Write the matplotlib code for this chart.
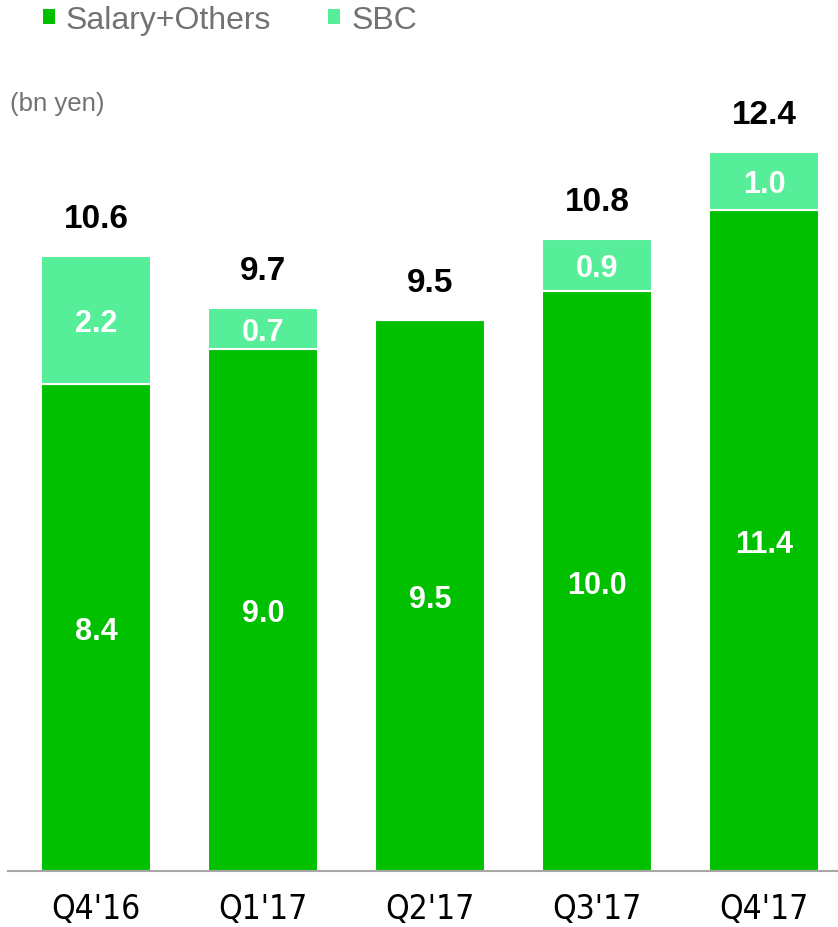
import matplotlib
matplotlib.use("Agg")
import matplotlib.pyplot as plt
from matplotlib.patches import Patch
from matplotlib import font_manager

# ---------- data ----------
quarters = ["Q4'16", "Q1'17", "Q2'17", "Q3'17", "Q4'17"]
salary = [8.4, 9.0, 9.5, 10.0, 11.4]
sbc = [2.2, 0.7, 0.0, 0.9, 1.0]
totals = [10.6, 9.7, 9.5, 10.8, 12.4]

c_salary = '#00c000'
c_sbc = '#57ee9a'
c_grey = '#767171'

# condensed face for the quarter labels, if one is around
names = {f.name for f in font_manager.fontManager.ttflist}
cond = [f for f in font_manager.fontManager.ttflist if f.stretch == 'condensed']
if 'Liberation Sans Narrow' in names:
    tick_font = dict(family=['Liberation Sans Narrow', 'DejaVu Sans'])
elif cond:
    tick_font = dict(family=[cond[0].name, 'DejaVu Sans'], stretch='condensed')
else:
    tick_font = dict(family=['Liberation Sans', 'DejaVu Sans'])
plt.rcParams['font.family'] = ['Liberation Sans', 'DejaVu Sans']

W, H = 838, 928
fig = plt.figure(figsize=(W / 100, H / 100), dpi=100)
base = 872
ax = fig.add_axes([8 / W, 1 - base / H, 830 / W, base / H])

x = list(range(len(quarters)))
width = 0.66
ax.bar(x, salary, width, color=c_salary, edgecolor='white', linewidth=1.5, zorder=2)
ax.bar(x, sbc, width, bottom=salary, color=c_sbc, edgecolor='white', linewidth=1.5, zorder=2)

ax.set_xlim(-0.527, 4.443)
ax.set_ylim(0, base / 58.0)

for i in x:
    ax.text(i, salary[i] / 2, f'{salary[i]:.1f}', ha='center', va='center_baseline',
            color='white', fontsize=22, fontweight='bold', zorder=3)
    if sbc[i] > 0:
        ax.text(i, salary[i] + sbc[i] / 2, f'{sbc[i]:.1f}', ha='center',
                va='center_baseline', color='white', fontsize=22,
                fontweight='bold', zorder=3)
    ax.annotate(f'{totals[i]:.1f}', xy=(i, salary[i] + sbc[i]), xytext=(0, 16),
                textcoords='offset points', ha='center', va='bottom',
                fontsize=24, fontweight='bold', color='black')

for s in ['top', 'right', 'left']:
    ax.spines[s].set_visible(False)
ax.spines['bottom'].set_color('#a6a6a6')
ax.spines['bottom'].set_linewidth(1.5)
ax.set_yticks([])
ax.set_xticks(x)
ax.set_xticklabels(quarters, fontsize=24, **tick_font)
ax.tick_params(axis='x', length=0, pad=27)
for lab in ax.get_xticklabels():
    lab.set_verticalalignment('center')

fig.text(10 / W, 1 - 104 / H, '(bn yen)', fontsize=18.5, color=c_grey,
         ha='left', va='center')

handles = [Patch(facecolor=c_salary, label='Salary+Others'),
           Patch(facecolor=c_sbc, label='SBC')]
fig.legend(handles=handles, loc='center left', bbox_to_anchor=(43 / W, 1 - 21 / H),
           ncol=2, frameon=False, fontsize=23, labelcolor=c_grey,
           handlelength=0.38, handleheight=0.38, handletextpad=0.34,
           columnspacing=1.78, borderaxespad=0, borderpad=0)

fig.savefig('out.png', dpi=100, facecolor='white')
